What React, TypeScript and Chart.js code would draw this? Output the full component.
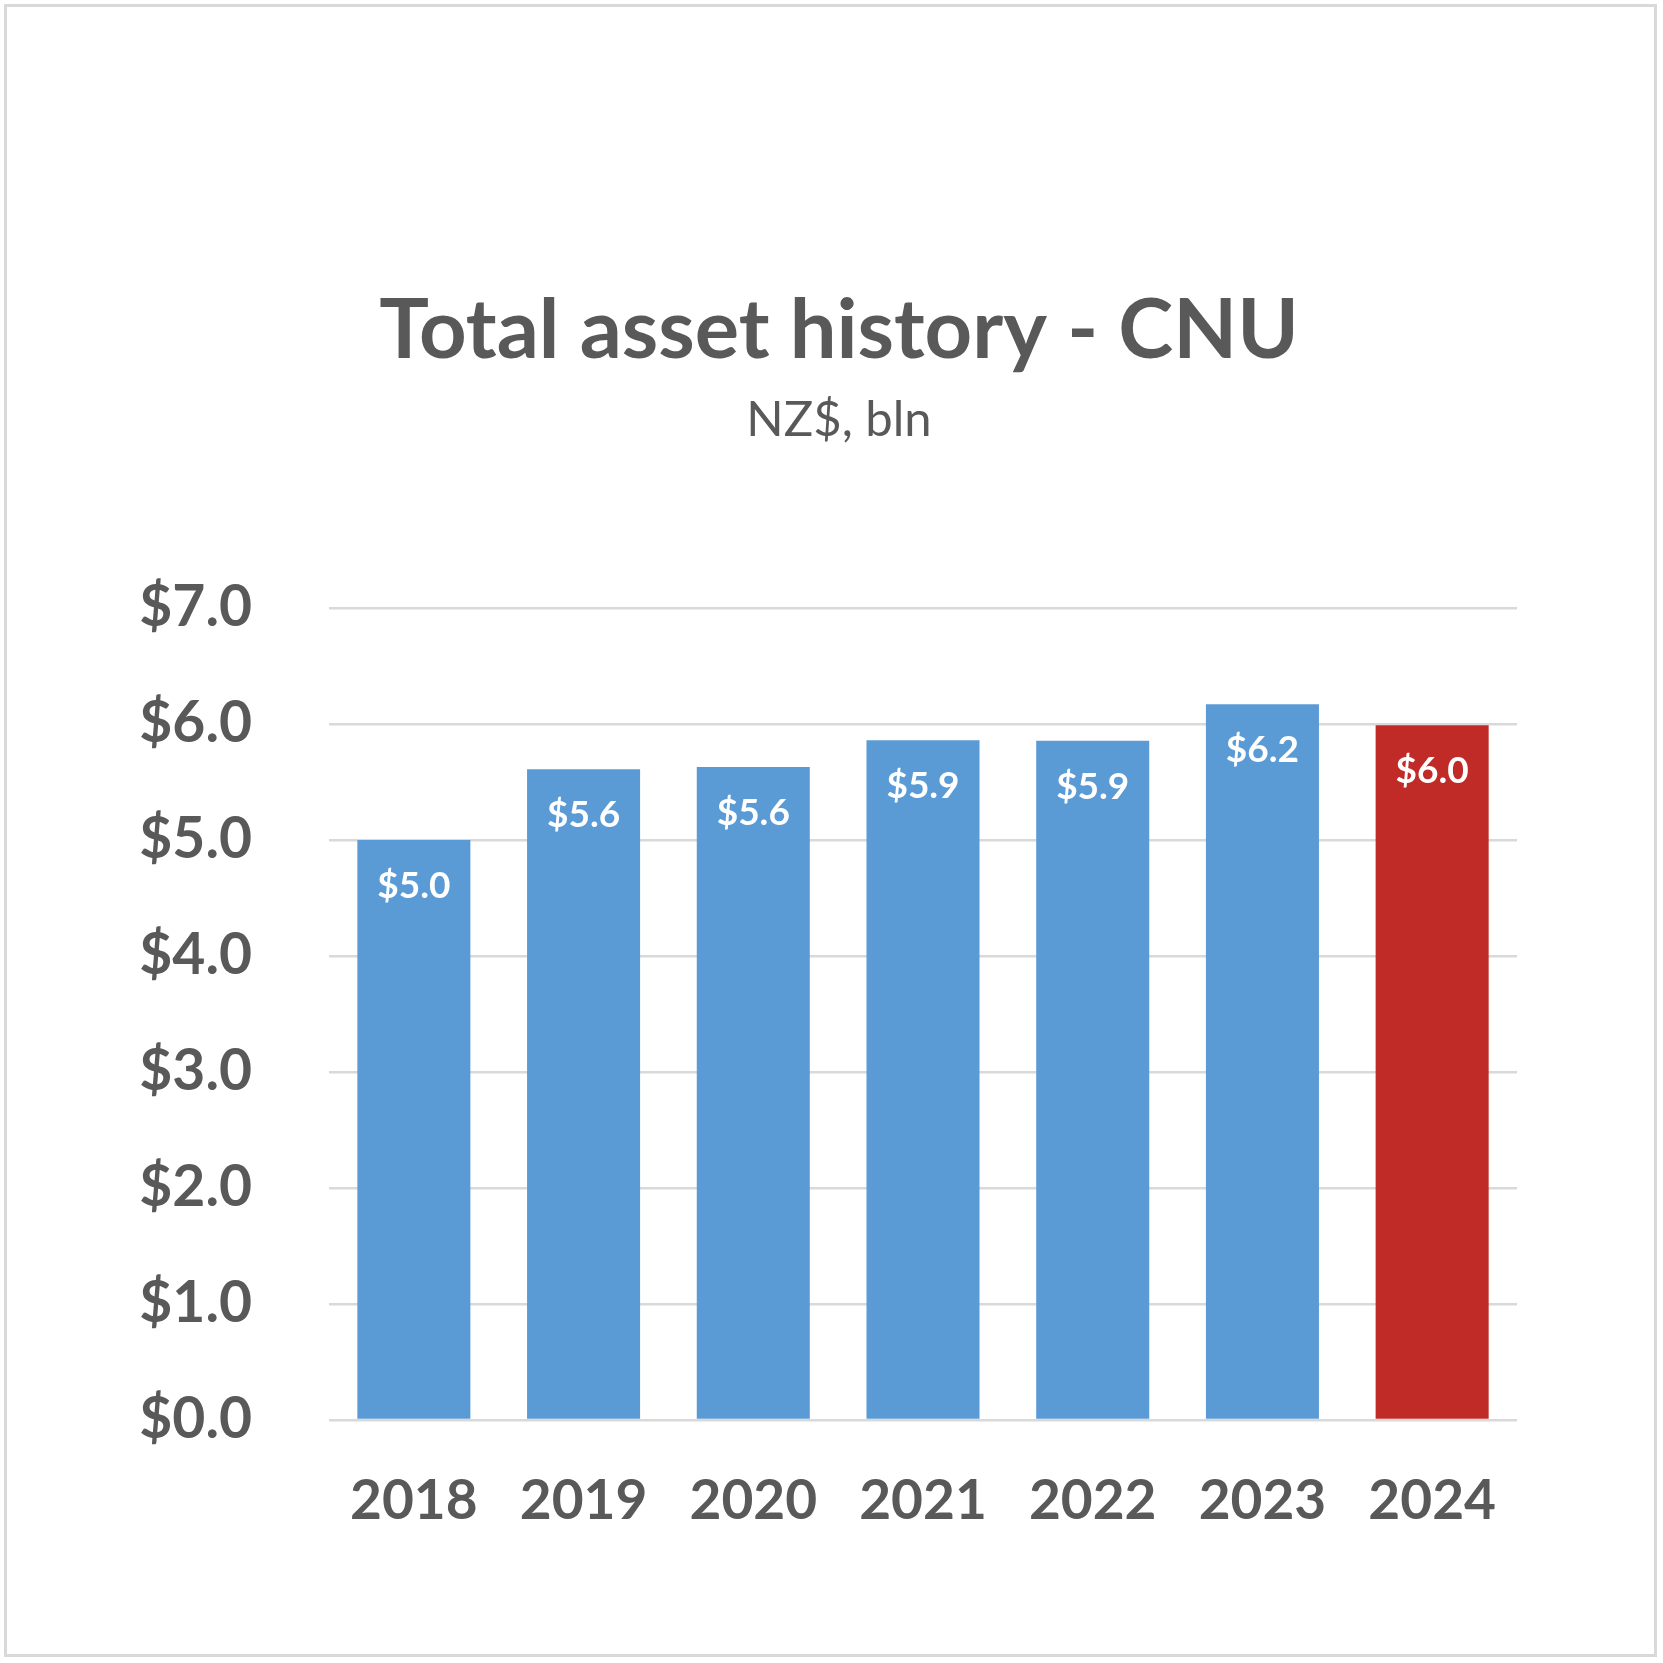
import React, { useEffect, useRef } from "react";
import { Chart, registerables } from "chart.js";

Chart.register(...registerables);

const categories = ["2018", "2019", "2020", "2021", "2022", "2023", "2024"];
const totalAssets = [5.0, 5.61, 5.63, 5.86, 5.855, 6.17, 5.99];
const barColors = ["#5B9BD5", "#5B9BD5", "#5B9BD5", "#5B9BD5", "#5B9BD5", "#5B9BD5", "#C02A27"];
const yTicks = [0, 1, 2, 3, 4, 5, 6, 7];
const titleText = "Total asset history - CNU";
const subtitleText = "NZ$, bln";

const TEXT = "#595959";
const FONT = "Lato, 'Open Sans', sans-serif";

const titlePlugin = {
  id: "customTitle",
  afterDraw(chart: any) {
    const ctx = chart.ctx;
    ctx.save();
    ctx.fillStyle = TEXT;
    ctx.textAlign = "center";
    ctx.textBaseline = "alphabetic";
    ctx.font = `bold 83px ${FONT}`;
    ctx.fillText(titleText, 839, 358);
    ctx.font = `49px ${FONT}`;
    ctx.fillText(subtitleText, 839, 436);
    ctx.restore();
  },
};

const labelPlugin = {
  id: "barLabels",
  afterDatasetsDraw(chart: any) {
    const ctx = chart.ctx;
    const meta = chart.getDatasetMeta(0);
    ctx.save();
    ctx.fillStyle = "#FFFFFF";
    ctx.textAlign = "center";
    ctx.textBaseline = "middle";
    ctx.font = `bold 37px ${FONT}`;
    meta.data.forEach((bar: any, i: number) => {
      const v = totalAssets[i];
      ctx.fillText("$" + v.toFixed(1), bar.x, bar.y + 46);
    });
    ctx.restore();
  },
};

export default function App() {
  const ref = useRef<HTMLCanvasElement | null>(null);
  useEffect(() => {
    if (!ref.current) return;
    const chart = new Chart(ref.current, {
      type: "bar",
      data: {
        labels: categories,
        datasets: [
          {
            data: totalAssets,
            backgroundColor: barColors,
            borderWidth: 0,
            barPercentage: 0.666,
            categoryPercentage: 1,
          },
        ],
      },
      options: {
        animation: false,
        responsive: false,
        maintainAspectRatio: false,
        layout: { padding: { top: 608, right: 146, bottom: 0, left: 0 } },
        plugins: {
          legend: { display: false },
          title: { display: false },
          tooltip: { enabled: false },
        },
        scales: {
          x: {
            grid: { display: false, drawTicks: false },
            border: { display: false },
            ticks: {
              color: TEXT,
              font: { family: FONT, size: 55, weight: "bold" },
              padding: 48,
              maxRotation: 0,
            },
            afterFit(scale: any) {
              scale.height = 243;
            },
          },
          y: {
            min: 0,
            max: 7,
            afterBuildTicks(scale: any) {
              scale.ticks = yTicks.map((v) => ({ value: v }));
            },
            grid: { color: "#D9D9D9", lineWidth: 2.5, drawTicks: false },
            border: { display: false },
            ticks: {
              color: TEXT,
              font: { family: FONT, size: 57, weight: "bold" },
              padding: 77,
              callback: (v: any) => "$" + Number(v).toFixed(1),
            },
            afterFit(scale: any) {
              scale.width = 329;
            },
          },
        },
      },
      plugins: [titlePlugin, labelPlugin],
    });
    return () => chart.destroy();
  }, []);

  return (
    <div style={{ position: "fixed", left: 0, top: 0, width: 1663, height: 1663, background: "#fff" }}>
      <canvas ref={ref} width={1663} height={1663} style={{ position: "absolute", left: 0, top: 0 }} />
      <div
        style={{
          position: "absolute",
          left: 4,
          top: 4,
          width: 1653,
          height: 1653,
          border: "3px solid #D9D9D9",
          boxSizing: "border-box",
          pointerEvents: "none",
        }}
      />
    </div>
  );
}
